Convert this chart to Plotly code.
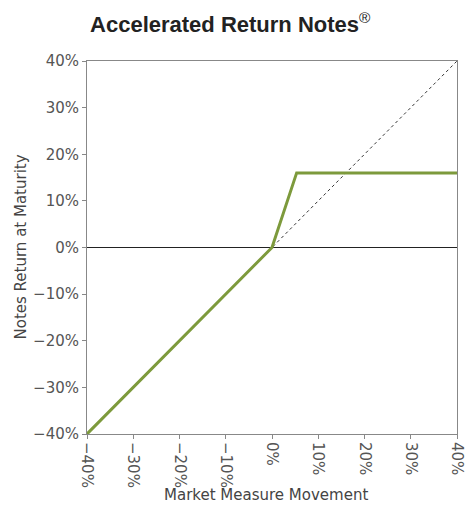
import plotly.graph_objects as go

market_move = [-40, 0, 5.33, 40]
notes_return = [-40, 0, 16, 16]
diag_x = [-40, 40]
diag_y = [-40, 40]
tick_vals = [-40, -30, -20, -10, 0, 10, 20, 30, 40]
tick_text = ["−40%", "−30%", "−20%", "−10%", "0%", "10%", "20%", "30%", "40%"]

fig = go.Figure()
fig.add_trace(go.Scatter(x=diag_x, y=diag_y, mode="lines",
                         line=dict(color="#333333", width=1, dash="dot"), hoverinfo="skip"))
fig.add_trace(go.Scatter(x=[-40, 40], y=[0, 0], mode="lines",
                         line=dict(color="#222222", width=1.2), hoverinfo="skip"))
fig.add_trace(go.Scatter(x=market_move, y=notes_return, mode="lines",
                         line=dict(color="#7d9a3c", width=3)))

axis_common = dict(range=[-40, 40], tickvals=tick_vals, ticktext=tick_text,
                   showgrid=False, zeroline=False, showline=True, mirror=True,
                   linecolor="#888888", linewidth=1, ticks="outside", ticklen=4,
                   tickcolor="#888888", automargin=False, ticklabeloverflow="allow",
                   tickfont=dict(family="DejaVu Sans", size=15, color="#555555"))

fig.update_layout(
    width=466, height=508,
    margin=dict(l=87, r=9, t=61, b=74),
    paper_bgcolor="white", plot_bgcolor="white",
    showlegend=False,
    title=dict(text="<b>Accelerated Return Notes</b><sup>®</sup>", x=0.494, xanchor="center",
               y=0.952, yanchor="middle",
               font=dict(family="Liberation Sans", size=22, color="#222222")),
    xaxis=dict(**axis_common, tickangle=90),
    yaxis=dict(**axis_common),
    annotations=[
        dict(text="Market Measure Movement", xref="paper", yref="paper", x=0.484, y=0,
             xanchor="center", yanchor="middle", yshift=-61, showarrow=False,
             font=dict(family="DejaVu Sans", size=15, color="#444444")),
        dict(text="Notes Return at Maturity", xref="paper", yref="paper", x=0, y=0.5,
             xanchor="center", yanchor="middle", xshift=-67, textangle=-90, showarrow=False,
             font=dict(family="DejaVu Sans", size=15, color="#444444")),
    ],
)

fig.write_html("out.html", config={"displayModeBar": False},
               post_script="document.body.style.margin='0';document.body.style.overflow='hidden';")
